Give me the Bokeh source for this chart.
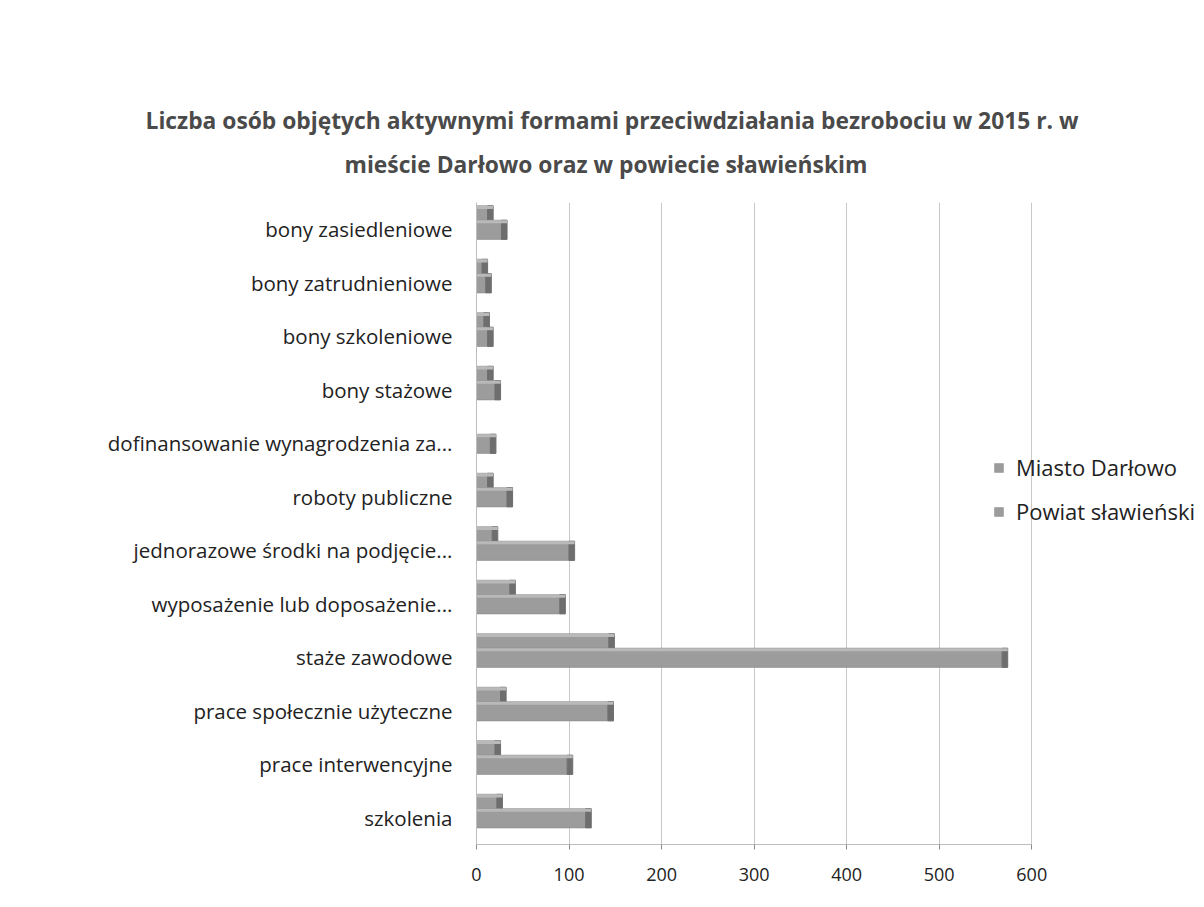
from bokeh.plotting import figure
from bokeh.models import ColumnDataSource, FactorRange, Legend, LegendItem, Title, Range1d
from bokeh.transform import dodge
from bokeh.embed import file_html
from bokeh.resources import INLINE

# ---- data (bottom to top) ----
categories = [
    "szkolenia",
    "prace interwencyjne",
    "prace społecznie użyteczne",
    "staże zawodowe",
    "wyposażenie lub doposażenie...",
    "jednorazowe środki na podjęcie...",
    "roboty publiczne",
    "dofinansowanie wynagrodzenia za...",
    "bony stażowe",
    "bony szkoleniowe",
    "bony zatrudnieniowe",
    "bony zasiedleniowe",
]
miasto_darlowo = [22, 20, 26, 143, 36, 17, 12, 0, 12, 8, 6, 12]
powiat_slawienski = [118, 98, 142, 568, 90, 100, 33, 15, 20, 12, 10, 27]
x_ticks = [0, 100, 200, 300, 400, 500, 600]
series_names = ["Miasto Darłowo", "Powiat sławieński"]
title_line1 = "Liczba osób objętych aktywnymi formami przeciwdziałania bezrobociu w 2015 r. w"
title_line2 = "mieście Darłowo oraz w powiecie  sławieńskim"

FONT = "Open Sans"
DEPTH = 6  # visual depth of the pseudo-3D end face (data units)

m_cap = [v + DEPTH if v > 0 else v for v in miasto_darlowo]
p_cap = [v + DEPTH if v > 0 else v for v in powiat_slawienski]

src = ColumnDataSource(dict(cat=categories, m=miasto_darlowo, p=powiat_slawienski,
                            m_cap=m_cap, p_cap=p_cap))

p = figure(width=1196, height=899, y_range=FactorRange(factors=categories),
           x_range=Range1d(0, 778), output_backend="svg", toolbar_location=None,
           min_border_left=476, min_border_right=0, min_border_top=202,
           min_border_bottom=55)

p.title.text = title_line1
p.title.align = "left"
p.title.vertical_align = "top"
p.title.offset = -331
p.title.text_font = FONT
p.title.text_font_size = "22.8px"
p.title.text_color = "#4a4a4a"
p.title.standoff = -18
t2 = Title(text=title_line2, align="left", vertical_align="top", offset=-132,
           text_font=FONT, text_font_size="22.8px", text_color="#4a4a4a", standoff=41)
p.add_layout(t2, "above")

col_face = "#9c9c9c"
col_side = "#6e6e6e"
col_top = "#b9b9b9"

# Miasto (back series)
rm = p.hbar(y=dodge("cat", 0.26, range=p.y_range), left=0, right="m", height=0.36,
            source=src, fill_color=col_face, line_color="#8a8a8a", line_width=0.6)
p.hbar(y=dodge("cat", 0.26, range=p.y_range), left="m", right="m_cap", height=0.36,
       source=src, fill_color=col_side, line_color=col_side)
p.hbar(y=dodge("cat", 0.41, range=p.y_range), left=0, right="m_cap", height=0.06,
       source=src, fill_color=col_top, line_color=None)
# Powiat (front series)
rp = p.hbar(y=dodge("cat", -0.01, range=p.y_range), left=0, right="p", height=0.36,
            source=src, fill_color=col_face, line_color="#8a8a8a", line_width=0.6)
p.hbar(y=dodge("cat", -0.01, range=p.y_range), left="p", right="p_cap", height=0.36,
       source=src, fill_color=col_side, line_color=col_side)
p.hbar(y=dodge("cat", 0.14, range=p.y_range), left=0, right="p_cap", height=0.06,
       source=src, fill_color=col_top, line_color=None)

legend = Legend(items=[LegendItem(label=series_names[0], renderers=[rm]),
                       LegendItem(label=series_names[1], renderers=[rp])],
                location=(517, 318), label_text_font=FONT, label_text_font_size="22px",
                label_text_color="#222222", glyph_width=11, glyph_height=11,
                label_standoff=12, spacing=14, padding=0, margin=0,
                border_line_color=None, background_fill_alpha=0)
p.add_layout(legend, "center")

p.xaxis.ticker = x_ticks
p.xaxis.bounds = (0, 600)
p.xaxis.major_label_text_font = FONT
p.xaxis.major_label_text_font_size = "18px"
p.xaxis.major_label_text_color = "#222222"
p.xaxis.axis_line_color = "#bdbdbd"
p.xaxis.major_tick_line_color = "#8c8c8c"
p.xaxis.major_tick_out = 5
p.xaxis.major_tick_in = 0
p.xaxis.minor_tick_line_color = None
p.xaxis.major_label_standoff = 18

p.yaxis.major_label_text_font = FONT
p.yaxis.major_label_text_font_size = "20.5px"
p.yaxis.major_label_text_color = "#222222"
p.yaxis.axis_line_color = "#bdbdbd"
p.yaxis.major_tick_line_color = None
p.yaxis.major_tick_out = 0
p.yaxis.major_tick_in = 0
p.yaxis.major_label_standoff = 24

p.xgrid.grid_line_color = "#c9c9c9"
p.ygrid.grid_line_color = None
p.outline_line_color = None
p.background_fill_color = "white"
p.border_fill_color = "white"

open("out.html", "w").write(file_html(p, INLINE))
